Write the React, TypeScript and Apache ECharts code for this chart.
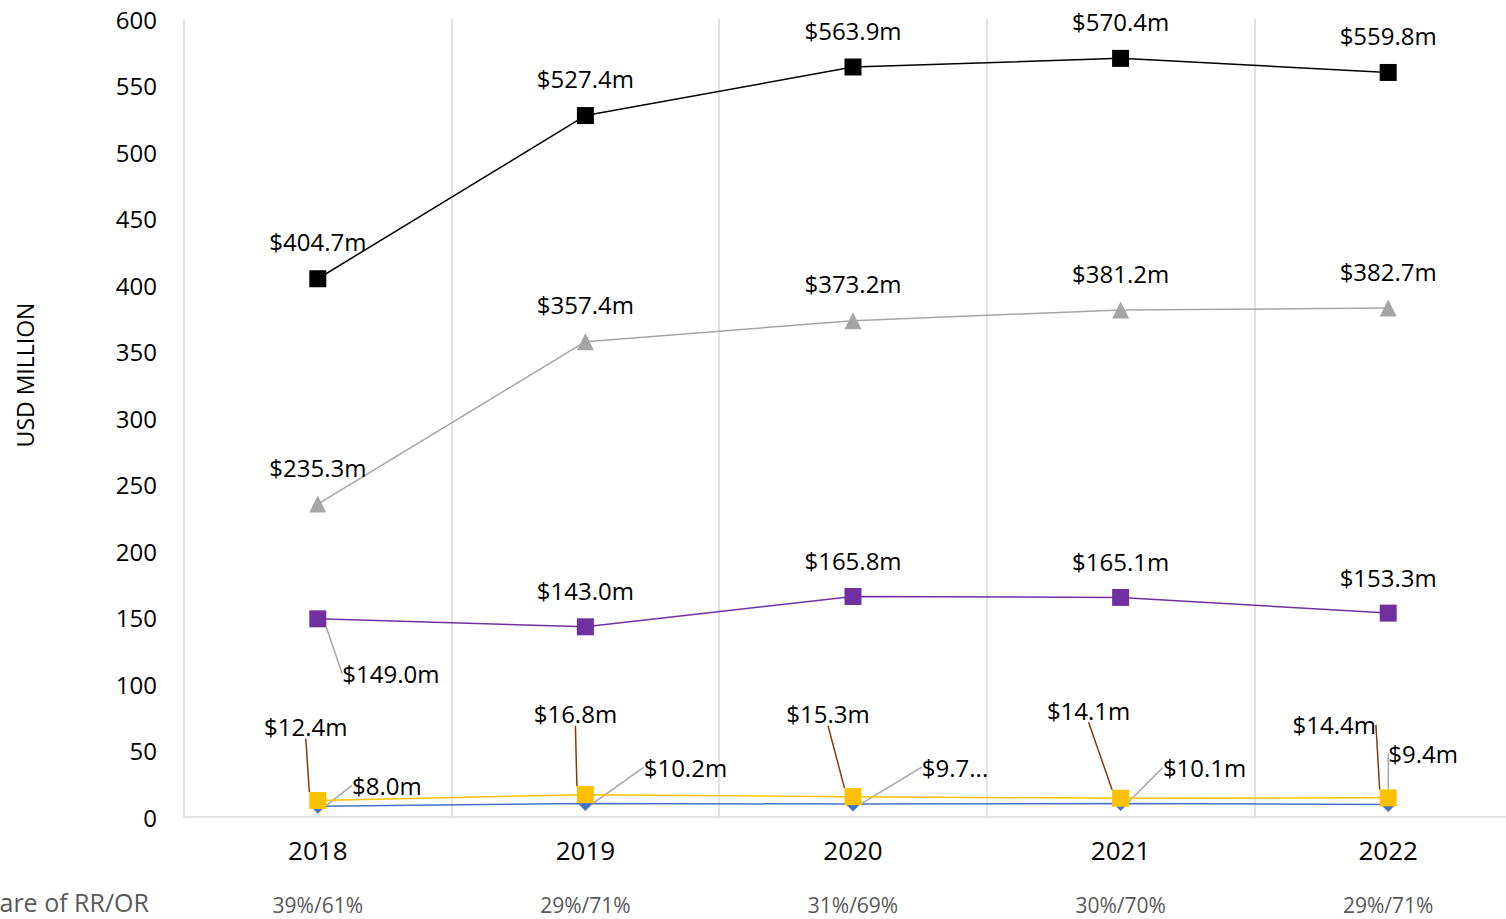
import React, { useEffect, useRef } from "react";
import * as echarts from "echarts";

const years = ["2018", "2019", "2020", "2021", "2022"];
const shares = ["39%/61%", "29%/71%", "31%/69%", "30%/70%", "29%/71%"];
const totalSeries = [404.7, 527.4, 563.9, 570.4, 559.8];
const graySeries = [235.3, 357.4, 373.2, 381.2, 382.7];
const purpleSeries = [149.0, 143.0, 165.8, 165.1, 153.3];
const yellowSeries = [12.4, 16.8, 15.3, 14.1, 14.4];
const blueSeries = [8.0, 10.2, 9.7, 10.1, 9.4];
const blueTruncated = [false, false, true, false, false];
const yTicks = { min: 0, max: 600, interval: 50 };

// label offsets (from marker centre) in pixels, per series name
const labelOffsets: Record<string, [number, number][]> = {
  Yellow: [[-12, -74], [-10, -81], [-25, -83], [-32, -88], [-54, -73]],
  Blue: [[69, -21], [100, -36], [102, -37], [84, -36], [35, -51]],
  Purple: [[73, 55], [0, -36], [0, -36], [0, -36], [0, -36]],
};

const FONT = "'Open Sans', 'Noto Sans', sans-serif";

export default function App() {
  const ref = useRef<HTMLDivElement>(null);
  useEffect(() => {
    document.body.style.margin = "0";
    document.body.style.overflow = "hidden";
    const chart = echarts.init(ref.current!, null, { renderer: "svg" });
    const fmt = (v: number) => "$" + v.toFixed(1) + "m";
    const labelBase = {
      show: true,
      fontFamily: FONT,
      fontSize: 24,
      color: "#000",
      formatter: (p: any) => fmt(p.value),
    };
    const mk = (name: string, values: number[], color: string, symbol: string, size: number, extra: any = {}) => ({
      name,
      type: "line",
      data: values.map((v, i) => (extra.itemFn ? extra.itemFn(v, i) : v)),
      symbol,
      symbolSize: size,
      showSymbol: true,
      lineStyle: { color, width: 1.5 },
      itemStyle: { color },
      label: labelBase,
      labelLine: extra.labelLine || { show: false },
      z: extra.z || 2,
    });

    const series: any[] = [
      mk("Blue", blueSeries, "#4472c4", "diamond", 15, {
        labelLine: { show: true, lineStyle: { color: "#a6a6a6", width: 1.5 } },
        itemFn: (v: number, i: number) =>
          blueTruncated[i] ? { value: v, label: { formatter: "$" + v.toFixed(1) + "..." } } : v,
        z: 2,
      }),
      mk("Yellow", yellowSeries, "#ffc000", "rect", 17, {
        labelLine: { show: true, lineStyle: { color: "#843c0c", width: 1.5 } },
        z: 3,
      }),
      mk("Purple", purpleSeries, "#7030a0", "rect", 17, {
        itemFn: (v: number, i: number) =>
          i === 0
            ? { value: v, labelLine: { show: true, lineStyle: { color: "#a6a6a6", width: 1.5 } } }
            : v,
      }),
      mk("Gray", graySeries, "#a5a5a5", "triangle", 17),
      mk("Total", totalSeries, "#000000", "rect", 17),
    ];
    const names = series.map((s) => s.name);

    const option: any = {
      animation: false,
      grid: { left: 184, right: 0, top: 19, bottom: 102, containLabel: false },
      xAxis: [
        {
          type: "category",
          data: years,
          boundaryGap: true,
          axisLine: { show: true, lineStyle: { color: "#d9d9d9", width: 1.5 } },
          axisTick: { show: false },
          splitLine: { show: true, lineStyle: { color: "#d9d9d9", width: 1.5 } },
          axisLabel: { fontFamily: FONT, fontSize: 26, color: "#000", margin: 20 },
        },
        {
          type: "category",
          data: shares,
          position: "bottom",
          boundaryGap: true,
          axisLine: { show: false },
          axisTick: { show: false },
          splitLine: { show: false },
          axisLabel: { fontFamily: FONT, fontSize: 21, color: "#595959", margin: 77 },
        },
      ],
      yAxis: {
        type: "value",
        min: yTicks.min,
        max: yTicks.max,
        interval: yTicks.interval,
        axisLine: { show: false },
        axisTick: { show: false },
        splitLine: { show: false },
        axisLabel: { fontFamily: FONT, fontSize: 24, color: "#000", margin: 27 },
      },
      labelLayout: (p: any) => {
        const cx = p.rect.x + p.rect.width / 2;
        const cy = p.rect.y + p.rect.height / 2;
        let dx = 0;
        let dy = -37;
        const off = labelOffsets[names[p.seriesIndex]];
        if (off) [dx, dy] = off[p.dataIndex];
        return { x: cx + dx, y: cy + dy, align: "center", verticalAlign: "middle" };
      },
      series,
      graphic: [
        {
          type: "text",
          x: 25,
          y: 375,
          rotation: Math.PI / 2,
          style: {
            text: "USD MILLION",
            fontFamily: FONT,
            fontSize: 23,
            fill: "#000",
            align: "center",
            verticalAlign: "middle",
          },
        },
        {
          type: "text",
          x: 149,
          y: 902,
          style: {
            text: "are of RR/OR",
            fontFamily: FONT,
            fontSize: 25,
            fill: "#595959",
            align: "right",
            verticalAlign: "middle",
          },
        },
      ],
    };
    chart.setOption(option);
    return () => chart.dispose();
  }, []);
  return <div ref={ref} style={{ width: 1522, height: 919 }} />;
}
